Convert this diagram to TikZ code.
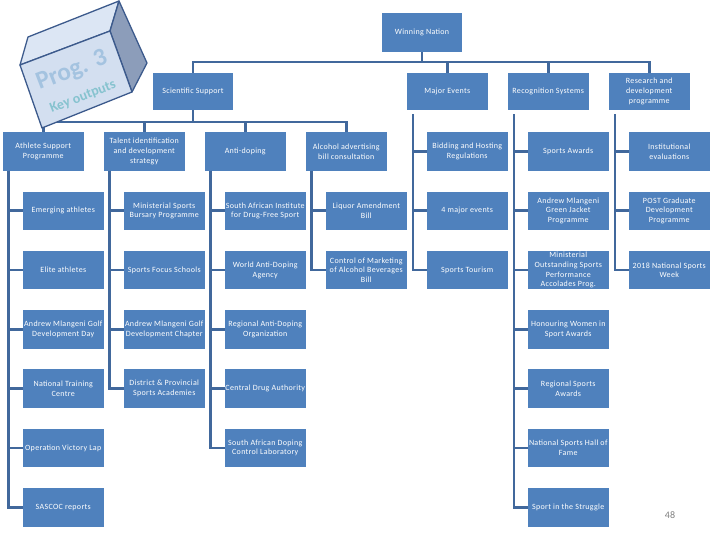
\documentclass[tikz,border=0pt]{standalone}
\usepackage{fontspec}
\setmainfont{Carlito}
\newfontfamily\boxfont[LetterSpace=4]{Carlito}
\usetikzlibrary{calc}
\definecolor{boxblue}{HTML}{4F81BD}
\definecolor{linkblue}{HTML}{41689C}
\definecolor{cubeline}{HTML}{3C5A8C}
\definecolor{cubefront}{HTML}{D3DFF0}
\definecolor{cubetop}{HTML}{DCE6F4}
\definecolor{cubeside}{HTML}{8C9DBA}
\definecolor{progfill}{HTML}{A4C3E0}
\definecolor{keyfill}{HTML}{86C3CF}
\definecolor{pagegrey}{HTML}{7F7F7F}
\begin{document}
\begin{tikzpicture}[x=1pt,y=-1pt,
  box/.style={rectangle, fill=boxblue, text=white, minimum width=80.5pt,
    minimum height=38.5pt, inner sep=0pt, align=center,
    font=\boxfont\fontsize{8}{9.7}\selectfont},
  conn/.style={draw=linkblue, line width=2.6pt},
  progtext/.style={rotate=21, font=\bfseries\fontsize{25}{25}\selectfont},
  keytext/.style={rotate=21, font=\bfseries\fontsize{14}{14}\selectfont}
]
\useasboundingbox (0,0) rectangle (720,540);

% level 1 and 2
\node[box, minimum height=39pt] (win) at (422,32.5) {Winning Nation};
\node[box, minimum height=37pt] (sci) at (193,91.5) {Scientific Support};
\node[box, minimum height=37pt] (maj) at (447.25,91.5) {Major Events};
\node[box, minimum height=37pt] (rec) at (548.25,91.5) {Recognition Systems};
\node[box, minimum height=37pt] (res) at (649.25,91.5) {Research and\\development\\programme};

% row 1
\node[box] (ath)  at (43.25,151.5)  {Athlete Support\\Programme};
\node[box] (tal)  at (144.25,151.5) {Talent identification\\and development\\strategy};
\node[box] (anti) at (245.25,151.5) {Anti-doping};
\node[box] (alc)  at (346.25,151.5) {Alcohol advertising\\bill consultation};
\node[box] (bid)  at (467.25,151.5) {Bidding and Hosting\\Regulations};
\node[box] (spa)  at (568.25,151.5) {Sports Awards};
\node[box] (ins)  at (669.25,151.5) {Institutional\\evaluations};

% row 2
\node[box] (emer) at (63.25,210.8)  {Emerging athletes};
\node[box] (msb)  at (164.25,210.8) {Ministerial Sports\\Bursary Programme};
\node[box] (said) at (265.25,210.8) {South African Institute\\for Drug-Free Sport};
\node[box] (lab)  at (366.25,210.8) {Liquor Amendment\\Bill};
\node[box] (fme)  at (467.25,210.8) {4 major events};
\node[box] (amg)  at (568.25,210.8) {Andrew Mlangeni\\Green Jacket\\Programme};
\node[box] (pgd)  at (669.25,210.8) {POST Graduate\\Development\\Programme};

% row 3
\node[box] (elite) at (63.25,270.1)  {Elite athletes};
\node[box] (sfs)   at (164.25,270.1) {Sports Focus Schools};
\node[box] (wada)  at (265.25,270.1) {World Anti-Doping\\Agency};
\node[box] (cmab)  at (366.25,270.1) {Control of Marketing\\of Alcohol Beverages\\Bill};
\node[box] (stour) at (467.25,270.1) {Sports Tourism};
\node[box] (mosp)  at (568.25,270.1) {Ministerial\\Outstanding Sports\\Performance\\Accolades Prog.};
\node[box] (nsw)   at (669.25,270.1) {2018 National Sports\\Week};

% row 4
\node[box] (amgd) at (63.25,329.4)  {Andrew Mlangeni Golf\\Development Day};
\node[box] (amgc) at (164.25,329.4) {Andrew Mlangeni Golf\\Development Chapter};
\node[box] (rado) at (265.25,329.4) {Regional Anti-Doping\\Organization};
\node[box] (hwsa) at (568.25,329.4) {Honouring Women in\\Sport Awards};

% row 5
\node[box] (ntc)  at (63.25,388.7)  {National Training\\Centre};
\node[box] (dpsa) at (164.25,388.7) {District \& Provincial\\Sports Academies};
\node[box] (cda)  at (265.25,388.7) {Central Drug Authority};
\node[box] (rsa)  at (568.25,388.7) {Regional Sports\\Awards};

% row 6
\node[box] (ovl)  at (63.25,448)  {Operation Victory Lap};
\node[box] (sadc) at (265.25,448) {South African Doping\\Control Laboratory};
\node[box] (nshf) at (568.25,448) {National Sports Hall of\\Fame};

% row 7
\node[box] (sascoc) at (63.25,507.3)  {SASCOC reports};
\node[box] (sits)   at (568.25,507.3) {Sport in the Struggle};

% connectors: top levels
\coordinate (bar1) at ($(win.south)+(0,10)$);
\draw[conn] (win.south) -- (bar1);
\foreach \n in {sci,maj,rec,res} \draw[conn] (bar1) -| (\n.north);
\coordinate (bar2) at ($(sci.south)+(0,12)$);
\draw[conn] (sci.south) -- (bar2);
\foreach \n in {ath,tal,anti,alc} \draw[conn] (bar2) -| (\n.north);

% connectors: rails from row-1 parents
\foreach \p/\c in {ath/emer,ath/elite,ath/amgd,ath/ntc,ath/ovl,ath/sascoc,
                   tal/msb,tal/sfs,tal/amgc,tal/dpsa,
                   anti/said,anti/wada,anti/rado,anti/cda,anti/sadc,
                   alc/lab,alc/cmab}
  \draw[conn] ([xshift=5.5pt]\p.south west) |- (\c.west);

% connectors: rails from level-2 parents
\foreach \p/\c in {maj/bid,maj/fme,maj/stour,
                   rec/spa,rec/amg,rec/mosp,rec/hwsa,rec/rsa,rec/nshf,rec/sits,
                   res/ins,res/pgd,res/nsw}
  \draw[conn] ([xshift=6pt,yshift=-4pt]\p.south west) |- (\c.west);

% logo cube
\filldraw[fill=cubetop, draw=cubeline, line width=1.3pt, line join=round]
  (20,65) -- (28,37) -- (119,1) -- (110,31) -- cycle;
\filldraw[fill=cubeside, draw=cubeline, line width=1.3pt, line join=round]
  (110,31) -- (119,1) -- (147,63) -- (132,92) -- cycle;
\filldraw[fill=cubefront, draw=cubeline, line width=1.3pt, line join=round]
  (20,65) -- (110,31) -- (132,92) -- (42,128) -- cycle;
\node[progtext, text=progfill] (prog) at (72,71) {Prog. 3};
\node[keytext, text=keyfill] (key) at (83,97) {Key outputs};

% page number
\node[text=pagegrey, font=\fontsize{10}{12}\selectfont] (page) at (670,515) {48};
\end{tikzpicture}
\end{document}
